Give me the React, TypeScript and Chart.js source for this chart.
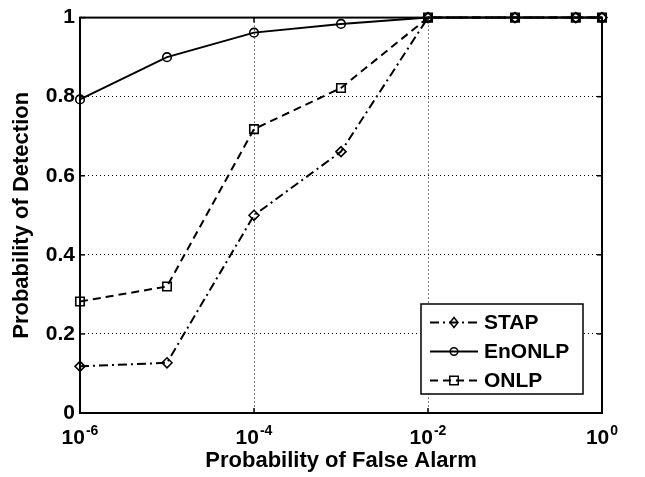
import React, { useEffect, useRef } from "react";
import { Chart, registerables } from "chart.js";
Chart.register(...registerables);

// ---- data ----
const pfa = [1e-6, 1e-5, 1e-4, 1e-3, 1e-2, 1e-1, 0.5, 1];
const stap = [0.118, 0.127, 0.5, 0.661, 1, 1, 1, 1];
const enonlp = [0.793, 0.9, 0.962, 0.984, 1, 1, 1, 1];
const onlp = [0.282, 0.32, 0.718, 0.822, 1, 1, 1, 1];
const seriesNames = ["STAP", "EnONLP", "ONLP"];
const xTickExponents = [-6, -4, -2, 0];
const yTicks = [0, 0.2, 0.4, 0.6, 0.8, 1];
const xTitle = "Probability of False Alarm";
const yTitle = "Probability of Detection";

const FONT = '"Liberation Sans", Arial, Helvetica, sans-serif';

type St = { dash: number[]; point: string; r: number };
const styles: St[] = [
  { dash: [9, 4, 2, 4], point: "rectRot", r: 5 },
  { dash: [], point: "circle", r: 4.3 },
  { dash: [8, 5], point: "rect", r: 6 },
];

function drawMarker(ctx: CanvasRenderingContext2D, kind: string, x: number, y: number, r: number) {
  ctx.beginPath();
  if (kind === "circle") {
    ctx.arc(x, y, r, 0, Math.PI * 2);
  } else if (kind === "rect") {
    const s = r * Math.SQRT1_2;
    ctx.rect(x - s, y - s, 2 * s, 2 * s);
  } else {
    ctx.moveTo(x, y - r);
    ctx.lineTo(x + r * 0.8, y);
    ctx.lineTo(x, y + r);
    ctx.lineTo(x - r * 0.8, y);
    ctx.closePath();
  }
  ctx.stroke();
}

export default function App() {
  const ref = useRef<HTMLCanvasElement>(null);
  useEffect(() => {
    const canvas = ref.current!;
    const seriesVals = [stap, enonlp, onlp];
    const datasets = seriesVals.map((vals, i) => ({
      label: seriesNames[i],
      data: pfa.map((x, j) => ({ x, y: vals[j] })),
      borderColor: "#000",
      borderWidth: 2,
      borderDash: styles[i].dash,
      pointStyle: styles[i].point as any,
      pointRadius: styles[i].r,
      pointBorderWidth: 1.6,
      pointBorderColor: "#000",
      pointBackgroundColor: "rgba(0,0,0,0)",
      tension: 0,
      fill: false,
      clip: false as any,
    }));

    const overlay = {
      id: "overlay",
      beforeDatasetsDraw(chart: any) {
        const { ctx, chartArea: a } = chart;
        ctx.save();
        ctx.strokeStyle = "#000";
        ctx.lineWidth = 2;
        ctx.setLineDash([]);
        ctx.strokeRect(a.left, a.top, a.right - a.left, a.bottom - a.top);
        ctx.restore();
      },
      afterDraw(chart: any) {
        const { ctx, chartArea: a, scales } = chart;
        ctx.save();
        ctx.strokeStyle = "#000";
        ctx.setLineDash([]);
        // inward tick marks
        ctx.lineWidth = 1.5;
        const tl = 5;
        const seg = (x1: number, y1: number, x2: number, y2: number) => {
          ctx.beginPath();
          ctx.moveTo(x1, y1);
          ctx.lineTo(x2, y2);
          ctx.stroke();
        };
        yTicks.forEach((v) => {
          const y = scales.y.getPixelForValue(v);
          seg(a.left, y, a.left + tl, y);
          seg(a.right, y, a.right - tl, y);
        });
        xTickExponents.forEach((e) => {
          const x = scales.x.getPixelForValue(Math.pow(10, e));
          seg(x, a.bottom, x, a.bottom - tl);
          seg(x, a.top, x, a.top + tl);
        });
        // x tick labels 10^e
        ctx.fillStyle = "#000";
        ctx.textBaseline = "alphabetic";
        ctx.textAlign = "left";
        const bigF = `bold 21px ${FONT}`;
        const smallF = `bold 14px ${FONT}`;
        xTickExponents.forEach((e) => {
          const x = scales.x.getPixelForValue(Math.pow(10, e));
          const base = "10";
          const sup = String(e);
          ctx.font = bigF;
          const wb = ctx.measureText(base).width;
          ctx.font = smallF;
          const ws = ctx.measureText(sup).width;
          const x0 = x - (wb + ws + 1) / 2;
          ctx.font = bigF;
          ctx.fillText(base, x0, a.bottom + 31);
          ctx.font = smallF;
          ctx.fillText(sup, x0 + wb + 1, a.bottom + 22);
        });
        // legend
        const lx = 421, ly = 304, lw = 162, lh = 90;
        ctx.fillStyle = "#fff";
        ctx.fillRect(lx, ly, lw, lh);
        ctx.strokeStyle = "#000";
        ctx.lineWidth = 1.5;
        ctx.strokeRect(lx, ly, lw, lh);
        chart.data.datasets.forEach((ds: any, i: number) => {
          const cy = ly + 18.5 + i * 29;
          ctx.lineWidth = 2;
          ctx.setLineDash(styles[i].dash);
          seg(lx + 9, cy, lx + 57, cy);
          ctx.setLineDash([]);
          ctx.lineWidth = 1.5;
          drawMarker(ctx, styles[i].point, lx + 33, cy, styles[i].point === "rect" ? 6 : styles[i].point === "circle" ? 3.8 : 5);
          ctx.fillStyle = "#000";
          ctx.font = `bold 21px ${FONT}`;
          ctx.textBaseline = "middle";
          ctx.fillText(ds.label, lx + 63, cy + 1);
        });
        ctx.restore();
      },
    };

    const chart = new Chart(canvas, {
      type: "line",
      data: { datasets: datasets as any },
      options: {
        responsive: false,
        animation: false,
        layout: { padding: { left: 0, top: 9, right: 43, bottom: 0 } },
        plugins: { legend: { display: false }, tooltip: { enabled: false } },
        scales: {
          x: {
            type: "logarithmic",
            min: 1e-6,
            max: 1,
            afterBuildTicks: (s: any) => {
              s.ticks = xTickExponents.map((e) => ({ value: Math.pow(10, e) }));
            },
            ticks: { display: false },
            grid: { color: "#000", lineWidth: 1, drawTicks: false },
            border: { display: false, dash: [1, 3] },
            title: {
              display: true,
              text: xTitle,
              color: "#000",
              font: { family: FONT, size: 22, weight: "bold" },
              padding: { top: 0, bottom: 3 },
            },
            afterFit: (s: any) => {
              s.height = 64;
            },
          },
          y: {
            type: "linear",
            min: 0,
            max: 1,
            afterBuildTicks: (s: any) => {
              s.ticks = yTicks.map((v) => ({ value: v }));
            },
            ticks: {
              color: "#000",
              padding: 5,
              font: { family: FONT, size: 21, weight: "bold" },
              callback: (v: any) => String(Number(Number(v).toFixed(1))),
            },
            grid: { color: "#000", lineWidth: 1, drawTicks: false },
            border: { display: false, dash: [1, 3] },
            title: {
              display: true,
              text: yTitle,
              color: "#000",
              font: { family: FONT, size: 22, weight: "bold" },
              padding: { top: 9, bottom: 0 },
            },
            afterFit: (s: any) => {
              s.width = 80;
            },
          },
        },
      },
      plugins: [overlay],
    });
    return () => chart.destroy();
  }, []);

  return (
    <div style={{ position: "fixed", left: 0, top: 0, width: 645, height: 477, background: "#fff" }}>
      <canvas ref={ref} width={645} height={477} style={{ display: "block" }} />
    </div>
  );
}
